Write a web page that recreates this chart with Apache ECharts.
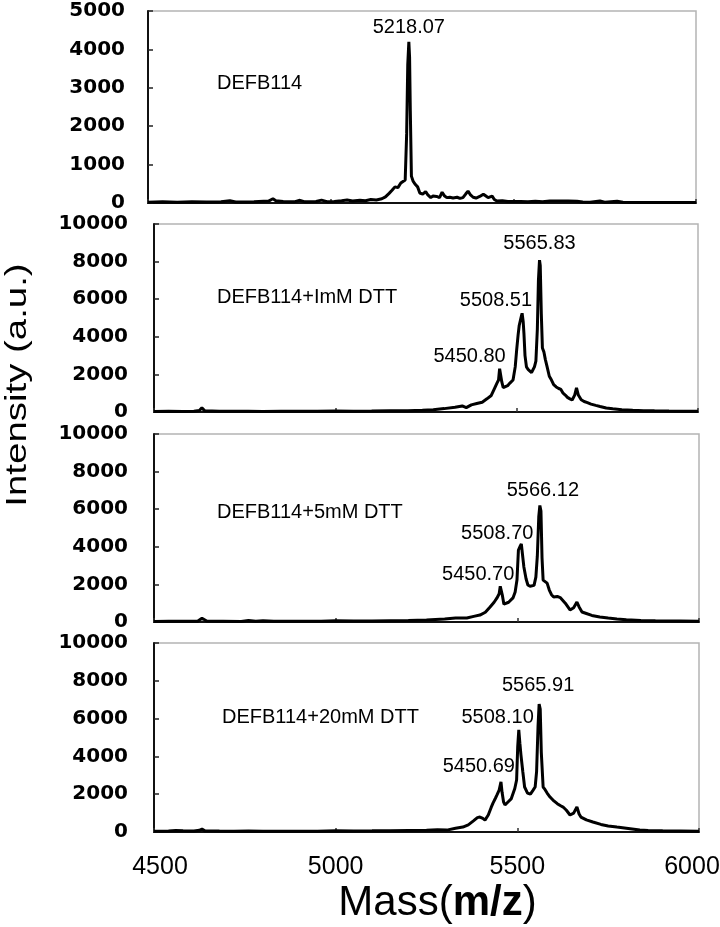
<!DOCTYPE html>
<html><head><meta charset="utf-8">
<script src="https://cdn.jsdelivr.net/npm/echarts/dist/echarts.min.js"></script>
<style>html,body{margin:0;padding:0;background:#fff}#c{width:720px;height:927px}</style>
</head><body><div id="c"></div>
<script>
// ---------- data ----------
const massTicks = [4500, 5000, 5500, 6000];
const panelNames = ['DEFB114', 'DEFB114+ImM DTT', 'DEFB114+5mM DTT', 'DEFB114+20mM DTT'];
const yMax = [5000, 10000, 10000, 10000];
const yStep = [1000, 2000, 2000, 2000];

const spec1 = [[4500,20],[4540,30],[4580,20],[4620,35],[4660,25],[4700,30],[4724,60],[4740,25],[4790,30],[4830,50],[4842,110],[4850,60],[4870,40],[4900,30],[4916,70],[4930,30],[4960,40],[4975,75],[4990,35],[5010,40],[5030,60],[5045,80],[5060,50],[5080,70],[5095,60],[5110,90],[5125,80],[5140,110],[5150,160],[5160,250],[5168,330],[5176,420],[5184,400],[5192,520],[5198,560],[5204,600],[5208,1800],[5211,3600],[5214,4200],[5216,3800],[5218,2400],[5221,700],[5226,560],[5232,480],[5238,420],[5244,260],[5252,230],[5260,300],[5266,210],[5274,140],[5280,180],[5290,170],[5298,140],[5305,280],[5312,180],[5318,140],[5326,150],[5335,130],[5346,150],[5354,120],[5362,140],[5370,240],[5376,310],[5382,220],[5390,150],[5398,130],[5408,170],[5418,230],[5424,190],[5431,140],[5442,180],[5448,90],[5455,50],[5470,60],[5485,40],[5520,40],[5540,30],[5560,45],[5580,30],[5600,55],[5620,50],[5650,55],[5674,45],[5690,25],[5710,20],[5737,50],[5750,20],[5784,45],[5800,20],[5850,15],[5900,15],[5950,10],[6000,10]];

const spec2 = [[4500,30],[4540,40],[4580,30],[4610,40],[4625,80],[4632,220],[4640,60],[4680,40],[4720,35],[4760,40],[4800,30],[4850,40],[4900,35],[4950,40],[5000,50],[5050,45],[5100,50],[5150,60],[5200,70],[5240,90],[5270,120],[5300,180],[5330,250],[5350,320],[5361,230],[5375,380],[5390,450],[5405,520],[5418,700],[5430,880],[5440,1300],[5446,1550],[5450,1700],[5453,2300],[5456,2350],[5459,1600],[5463,1300],[5468,1280],[5475,1400],[5482,1550],[5490,1700],[5496,2400],[5500,3300],[5504,4100],[5507,4600],[5510,4700],[5513,5100],[5515,5250],[5518,4800],[5520,4200],[5523,3000],[5527,2400],[5532,2250],[5537,2350],[5541,2100],[5545,2200],[5549,2400],[5553,2700],[5557,4400],[5560,7000],[5563,8080],[5565,7800],[5568,5200],[5571,3400],[5575,3200],[5579,2800],[5584,2400],[5590,1900],[5596,1700],[5602,1450],[5609,1330],[5616,1250],[5622,1200],[5628,1000],[5634,900],[5640,780],[5647,700],[5653,640],[5660,900],[5665,1280],[5670,900],[5678,650],[5686,560],[5695,500],[5705,420],[5718,350],[5730,290],[5747,210],[5765,170],[5790,120],[5820,90],[5850,70],[5880,60],[5920,50],[5960,45],[6000,40]];

const spec3 = [[4500,30],[4540,40],[4580,35],[4620,40],[4632,200],[4645,50],[4690,40],[4740,30],[4760,80],[4780,40],[4800,60],[4830,40],[4870,45],[4920,40],[4960,45],[5000,60],[5050,50],[5100,55],[5150,70],[5200,80],[5250,100],[5300,160],[5330,210],[5361,210],[5380,300],[5397,370],[5412,520],[5425,800],[5436,1050],[5444,1280],[5450,1500],[5453,1900],[5456,1970],[5459,1400],[5463,950],[5468,900],[5476,1050],[5488,1280],[5494,1600],[5499,2230],[5503,3830],[5507,4000],[5511,4150],[5514,4250],[5518,2930],[5524,2300],[5529,1970],[5535,1900],[5540,1860],[5546,1950],[5551,2390],[5555,3500],[5559,5600],[5562,6200],[5565,5900],[5568,3400],[5571,2230],[5576,2150],[5582,2070],[5588,1700],[5594,1450],[5600,1330],[5610,1360],[5618,1300],[5623,1330],[5632,1000],[5645,640],[5655,760],[5664,1060],[5670,800],[5678,530],[5690,450],[5705,350],[5727,270],[5750,210],[5774,160],[5800,120],[5840,80],[5880,60],[5948,50],[6000,40]];

const spec4 = [[4500,40],[4540,50],[4560,80],[4580,60],[4610,50],[4625,90],[4632,150],[4640,60],[4680,50],[4720,45],[4760,50],[4800,40],[4850,45],[4900,40],[4950,45],[5000,60],[5050,55],[5100,60],[5150,70],[5200,80],[5250,90],[5280,120],[5306,100],[5330,200],[5350,260],[5365,380],[5380,600],[5390,760],[5397,790],[5405,720],[5411,630],[5420,900],[5428,1300],[5433,1530],[5440,1800],[5444,1960],[5450,2220],[5455,2650],[5458,2100],[5462,1600],[5466,1430],[5475,1600],[5483,1750],[5488,1850],[5493,2300],[5498,2750],[5501,4500],[5504,5400],[5507,4700],[5510,4070],[5515,3200],[5520,2380],[5528,2060],[5536,2000],[5543,2200],[5549,2380],[5553,3200],[5557,5600],[5560,6770],[5563,6500],[5566,4200],[5571,2380],[5576,2250],[5582,2060],[5590,1850],[5598,1690],[5610,1500],[5618,1400],[5626,1320],[5635,1150],[5645,900],[5655,1000],[5664,1320],[5670,950],[5675,790],[5690,640],[5708,530],[5730,400],[5750,320],[5774,260],[5800,200],[5837,100],[5860,80],[5900,60],[5950,50],[6000,40]];

const peaks1 = [[5214, 4200, '5218.07']];
const peaks2 = [[5456, 2350, '5450.80'], [5515, 5250, '5508.51'], [5563, 8080, '5565.83']];
const peaks3 = [[5456, 1970, '5450.70'], [5514, 4250, '5508.70'], [5562, 6200, '5566.12']];
const peaks4 = [[5455, 2650, '5450.69'], [5504, 5400, '5508.10'], [5560, 6770, '5565.91']];

// ---------- layout / style ----------
const specs = [spec1, spec2, spec3, spec4];
const peaks = [peaks1, peaks2, peaks3, peaks4];
const grids = [
  {left: 148, top: 11, width: 548, height: 192},
  {left: 154, top: 224, width: 544, height: 188},
  {left: 154, top: 434, width: 545, height: 188},
  {left: 154, top: 643, width: 545, height: 189}
];
const yLabelMargin = [23, 26, 26, 26];
const peakLabelStyle = [
  [{dx: 0, dy: -14, align: 'center'}],
  [{dx: 5, dy: -11, align: 'right'}, {dx: 10, dy: -13, align: 'right'}, {dx: 0, dy: -17, align: 'center'}],
  [{dx: 13, dy: -10, align: 'right'}, {dx: 11, dy: -9, align: 'right'}, {dx: 3, dy: -15, align: 'center'}],
  [{dx: 14, dy: -15, align: 'right'}, {dx: 15, dy: -12, align: 'right'}, {dx: -1, dy: -19, align: 'center'}]
];
const namePos = [[217, 83], [217, 297], [217, 512], [222, 717]];

const FONT = 'Liberation Sans, Arial, sans-serif';
const tickTxt = {fontSize: 25, fontFamily: FONT, color: '#000'};

const option = {
  animation: false,
  backgroundColor: '#fff',
  grid: grids.map(g => Object.assign({show: true, borderColor: '#b4b4b4', borderWidth: 1.5, backgroundColor: '#fff', containLabel: false, outerBoundsMode: 'none'}, g)),
  xAxis: grids.map((g, i) => ({
    type: 'value', gridIndex: i, min: 4500, max: 6000, interval: 500,
    axisLine: {show: true, onZero: false, lineStyle: {color: '#111', width: 2}},
    axisTick: {show: true, inside: true, length: 4, lineStyle: {color: '#333', width: 1.5}},
    splitLine: {show: false},
    axisLabel: {
      show: i === 3, margin: 23, fontSize: 25, fontFamily: FONT, color: '#000',
      formatter: v => {
        if (!massTicks.includes(v)) return '';
        if (v === massTicks[0]) return '{l|' + v + '}';
        if (v === massTicks[massTicks.length - 1]) return '{r|' + v + '}';
        return String(v);
      },
      rich: {
        l: Object.assign({padding: [0, 0, 0, 12]}, tickTxt),
        r: Object.assign({padding: [0, 14, 0, 0]}, tickTxt)
      }
    },
    name: i === 3 ? '{n|Mass(}{b|m/z}{n|)}' : '',
    nameLocation: 'middle', nameGap: 50,
    nameTextStyle: {
      padding: [0, 0, 0, 22],
      rich: {
        n: {fontSize: 42, fontFamily: FONT, color: '#000'},
        b: {fontSize: 42, fontFamily: FONT, fontWeight: 'bold', color: '#000'}
      }
    }
  })),
  yAxis: grids.map((g, i) => ({
    type: 'value', gridIndex: i, min: 0, max: yMax[i], interval: yStep[i],
    axisLine: {show: true, lineStyle: {color: '#111', width: 2}},
    axisTick: {show: true, inside: true, length: 5, lineStyle: {color: '#222', width: 1.5}},
    splitLine: {show: false},
    axisLabel: {margin: yLabelMargin[i], fontSize: 20, fontWeight: 'bold', fontFamily: 'DejaVu Sans', color: '#000',
      formatter: v => String(v)}
  })),
  series: [],
  graphic: []
};

specs.forEach((s, i) => {
  option.series.push({
    type: 'line', xAxisIndex: i, yAxisIndex: i, data: s, showSymbol: false, symbol: 'none',
    lineStyle: {color: '#000', width: 3}, silent: true, z: 3
  });
  option.series.push({
    type: 'scatter', xAxisIndex: i, yAxisIndex: i, symbol: 'circle', symbolSize: 0.01, silent: true, z: 4,
    itemStyle: {color: '#000', opacity: 1},
    data: peaks[i].map((p, k) => ({
      value: [p[0], p[1]],
      label: {
        show: true, formatter: p[2], position: [peakLabelStyle[i][k].dx, peakLabelStyle[i][k].dy],
        align: peakLabelStyle[i][k].align, verticalAlign: 'middle', opacity: 1,
        fontSize: 20, fontFamily: FONT, color: '#000', textBorderWidth: 0
      }
    }))
  });
  option.graphic.push({
    type: 'text', x: namePos[i][0], y: namePos[i][1], silent: true,
    style: {text: panelNames[i], fontSize: 20, fontFamily: FONT, fill: '#000', textAlign: 'left', textVerticalAlign: 'middle'}
  });
});

option.graphic.push({
  type: 'text', x: 18, y: 385, rotation: Math.PI / 2, scaleX: 1.28, silent: true,
  style: {text: 'Intensity (a.u.)', fontSize: 30, fontFamily: FONT, fill: '#000', textAlign: 'center', textVerticalAlign: 'middle'}
});

const chart = echarts.init(document.getElementById('c'), null, {renderer: 'canvas'});
chart.setOption(option);
</script>
</body></html>
